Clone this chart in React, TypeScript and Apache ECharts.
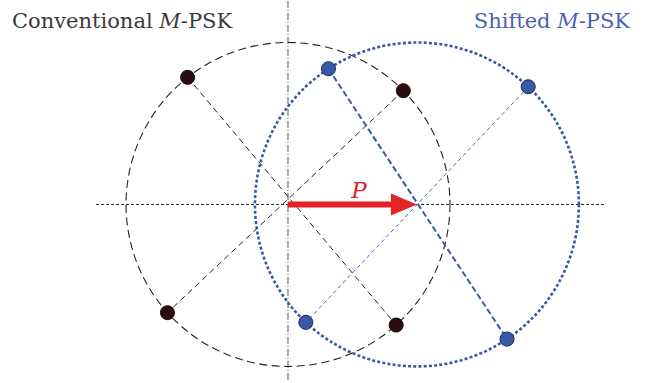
import React, { useEffect, useRef } from "react";
import * as echarts from "echarts";

// Constellation geometry (unit radius)
const RADIUS = 1;
const SHIFT_P = 0.796;
const CONV_ANGLES = [44.6, 128.3, 221.9, 311.9];
const SHIFTED_ANGLES = [46.6, 123.1, 226.7, 303.8];
// Reference axes extents
const H_AXIS = [-1.185, 1.957];
const V_AXIS = [-1.083, 1.262];
// Visible window
const X_RANGE = [-1.778, 2.272];
const Y_RANGE = [-1.102, 1.262];

const TITLE_CONV = "Conventional {i|M}-PSK";
const TITLE_SHIFT = "Shifted {i|M}-PSK";
const ARROW_LABEL = "P";

const SERIF = "DejaVu Serif";
const BLUE = "#3d57a8";
const DARK = "#222222";
const RED = "#e42228";

const toXY = (angleDeg: number, cx: number): [number, number] => {
  const a = (angleDeg * Math.PI) / 180;
  return [cx + RADIUS * Math.cos(a), RADIUS * Math.sin(a)];
};

const convPts = CONV_ANGLES.map((a) => toXY(a, 0));
const shiftPts = SHIFTED_ANGLES.map((a) => toXY(a, SHIFT_P));

const lineSeries = (data: number[][], color: string, width: number, dash: number[] | string, z = 2) => ({
  type: "line",
  data,
  symbol: "none",
  silent: true,
  z,
  lineStyle: { color, width, type: dash },
});

export default function App() {
  const ref = useRef<HTMLDivElement>(null);

  useEffect(() => {
    document.body.style.margin = "0";
    const chart = echarts.init(ref.current!, null, { renderer: "svg" });

    const titleStyle = (color: string) => ({
      fontFamily: SERIF,
      fontSize: 21,
      fontWeight: "normal",
      color,
      rich: {
        i: { fontFamily: SERIF, fontSize: 21, fontStyle: "italic", color },
      },
    });

    chart.setOption({
      animation: false,
      backgroundColor: "#ffffff",
      title: [
        { text: TITLE_CONV, left: 7, top: 5, textStyle: titleStyle("#3a3a3a") },
        { text: TITLE_SHIFT, right: 21, top: 5, textStyle: titleStyle("#4a62b0") },
      ],
      grid: { left: 0, right: 0, top: 0, bottom: 0 },
      xAxis: { type: "value", min: X_RANGE[0], max: X_RANGE[1], show: false },
      yAxis: { type: "value", min: Y_RANGE[0], max: Y_RANGE[1], show: false },
      series: [
        // axes through the origin
        lineSeries([[H_AXIS[0], 0], [H_AXIS[1], 0]], "#222", 1, [3, 2], 1),
        lineSeries([[0, V_AXIS[0]], [0, V_AXIS[1]]], "#555", 1, [7, 2, 1, 2], 1),
        // constellation circles
        {
          type: "custom",
          silent: true,
          z: 2,
          data: [
            [0, 0, 0],
            [SHIFT_P, 0, 1],
          ],
          renderItem: (params: any, api: any) => {
            const c = api.coord([api.value(0), api.value(1)]);
            const r = api.size([RADIUS, 0])[0];
            const shifted = api.value(2) === 1;
            return {
              type: "circle",
              shape: { cx: c[0], cy: c[1], r },
              style: shifted
                ? { fill: "none", stroke: BLUE, lineWidth: 2.6, lineDash: [3, 2.2] }
                : { fill: "none", stroke: DARK, lineWidth: 1.1, lineDash: [8, 4.5] },
            };
          },
        },
        // diagonals joining opposite symbols
        lineSeries([convPts[1], convPts[3]], DARK, 1, [6, 4]),
        lineSeries([convPts[0], convPts[2]], DARK, 1, [6, 4]),
        lineSeries([shiftPts[1], shiftPts[3]], BLUE, 2, [6, 3]),
        lineSeries([shiftPts[0], shiftPts[2]], "#4a66b8", 1, [4, 3]),
        // shift vector P
        {
          type: "custom",
          silent: true,
          z: 4,
          data: [[0, 0, SHIFT_P]],
          renderItem: (params: any, api: any) => {
            const s = api.coord([api.value(0), api.value(1)]);
            const t = api.coord([api.value(2), api.value(1)]);
            const hl = 26;
            const hw = 11;
            const sw = 3;
            const mid = api.coord([api.value(2) * 0.55, api.value(1)]);
            return {
              type: "group",
              children: [
                {
                  type: "polygon",
                  shape: {
                    points: [
                      [s[0], s[1] - sw],
                      [t[0] - hl, t[1] - sw],
                      [t[0] - hl, t[1] - hw],
                      [t[0], t[1]],
                      [t[0] - hl, t[1] + hw],
                      [t[0] - hl, t[1] + sw],
                      [s[0], s[1] + sw],
                    ],
                  },
                  style: { fill: RED, stroke: "none" },
                },
                {
                  type: "text",
                  x: mid[0],
                  y: mid[1] - 3,
                  style: {
                    text: ARROW_LABEL,
                    fill: RED,
                    font: `italic 23px '${SERIF}'`,
                    align: "center",
                    verticalAlign: "bottom",
                  },
                },
              ],
            };
          },
        },
        // symbols
        {
          type: "scatter",
          z: 5,
          silent: true,
          symbolSize: 14,
          data: convPts,
          itemStyle: { color: "#2c0b10", borderColor: "#111", borderWidth: 1, opacity: 1 },
        },
        {
          type: "scatter",
          z: 5,
          silent: true,
          symbolSize: 14,
          data: shiftPts,
          itemStyle: { color: "#3a58a8", borderColor: "#1c2a50", borderWidth: 1, opacity: 1 },
        },
      ],
    });

    return () => chart.dispose();
  }, []);

  return <div ref={ref} style={{ width: 656, height: 383 }} />;
}
